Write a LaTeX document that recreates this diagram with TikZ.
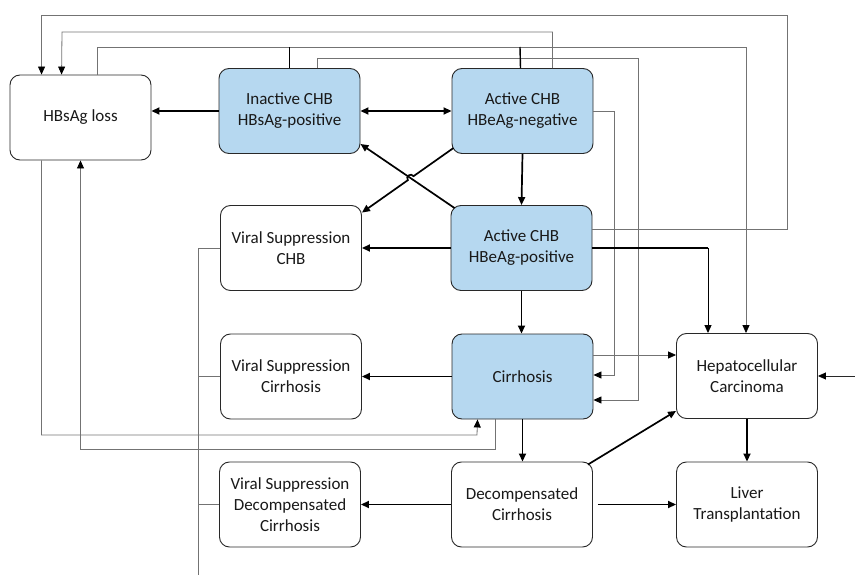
\documentclass[tikz,border=0pt]{standalone}
\usepackage{fontspec}
\setmainfont{Carlito}
\usetikzlibrary{arrows.meta,calc,intersections}
\definecolor{boxblue}{RGB}{182,216,240}
\definecolor{thingray}{RGB}{115,115,115}
\definecolor{boxline}{RGB}{40,40,40}
\definecolor{textcol}{RGB}{25,25,25}
\begin{document}
\begin{tikzpicture}[x=1pt,y=-1pt,
  box/.style={draw=boxline, line width=0.9pt, rounded corners=10pt, minimum width=141pt,
    minimum height=85pt, align=center, inner sep=0pt, fill=white, text=textcol,
    font=\fontsize{17}{21}\selectfont},
  bluebox/.style={box, fill=boxblue},
  tip/.style={-{Triangle[length=8pt,width=7pt,color=black]}},
  main/.style={line width=1.7pt, black},
  mainarrow/.style={main, tip},
  link/.style={draw=thingray, line width=0.8pt},
  linkarrow/.style={link, tip},
  stub/.style={line width=1.4pt, black}]
\useasboundingbox (0,0) rectangle (855,575);

% nodes
\node[box]     (loss)   at (80.5,117.5)  {HBsAg loss};
\node[bluebox] (inact)  at (289.5,111)   {Inactive CHB\\HBsAg-positive};
\node[bluebox] (aneg)   at (522.5,111)   {Active CHB\\HBeAg-negative};
\node[box]     (vschb)  at (291,248)     {Viral Suppression\\CHB};
\node[bluebox] (apos)   at (521.5,248)   {Active CHB\\HBeAg-positive};
\node[box]     (vscir)  at (291,376.5)   {Viral Suppression\\Cirrhosis};
\node[bluebox] (cirr)   at (522.5,376.5) {Cirrhosis};
\node[box]     (hcc)    at (747,376)     {Hepatocellular\\Carcinoma};
\node[box]     (vsdec)  at (290,504.5)   {Viral Suppression\\Decompensated\\Cirrhosis};
\node[box]     (decomp) at (522,504.5)   {Decompensated\\Cirrhosis};
\node[box]     (liver)  at (747,504.5)   {Liver\\Transplantation};

% thin gray long connectors
\draw[linkarrow] ($(apos.east)+(0,-19)$) -| (787,15) -| ($(loss.north west)+(32,0)$);
\draw[linkarrow] ($(aneg.north west)+(101,0)$) |- (62,32) -- ($(loss.north west)+(52,0)$);
\draw[linkarrow] ($(loss.north west)+(88,0)$) |- (746,47) -- (hcc.north -| 746,0);
\draw[linkarrow] ($(inact.north west)+(99,0)$) |- (638,58) |- ($(cirr.east)+(0,23.5)$);
\draw[linkarrow] (aneg.east) -| (614,375) -- ($(cirr.east)+(0,-1.5)$);
\draw[linkarrow] ($(cirr.east)+(0,-21.5)$) -- (hcc.west |- 0,355);
\draw[linkarrow] ($(loss.south west)+(32,0)$) |- (477,435) -- ($(cirr.south)+(-45,0)$);
\draw[linkarrow] ($(cirr.south)+(-27.5,0)$) |- (80.5,449) -- (loss.south);
\coordinate (vbot) at (198,575);
\draw[link] (vschb.west) -| (vbot);
\draw[link] (vscir.west) -- (vscir.west -| vbot);
\draw[link] (vsdec.west) -- (vsdec.west -| vbot);
\coordinate (ext) at (855,376);
\draw[linkarrow, draw=boxline] (ext) -- (hcc.east);

% stubs to the top line
\draw[stub] (inact.north) -- (inact.north |- 0,47);
\draw[stub] ($(aneg.north)+(-2,0)$) -- (520,47);

% main black connectors
\draw[mainarrow] (inact.west) -- (inact.west -| loss.east);
\draw[main, {Triangle[length=8pt,width=7pt]}-{Triangle[length=8pt,width=7pt]}] (inact.east) -- (aneg.west);
\draw[mainarrow] (aneg.south) -- (apos.north);
\draw[mainarrow] (apos.west) -- (vschb.east);
\draw[mainarrow] (apos.south) -- ($(cirr.north)+(-1,0)$);
\draw[mainarrow] (cirr.west) -- (vscir.east);
\draw[mainarrow] (cirr.south) -- (decomp.north -| cirr.south);
\draw[mainarrow] (decomp.west) -- (vsdec.east);
\draw[mainarrow] ($(decomp.east)+(5,0)$) -- (liver.west);
\draw[mainarrow] (hcc.south) -- (liver.north);
\draw[mainarrow] ($(decomp.north east)+(-5,3)$) -- ($(hcc.south west)+(0,-8)$);
\draw[main] (apos.east) -- (708,248);
\draw[linkarrow, draw=black, line width=1pt] (708,248) -- (hcc.north -| 708,0);

% crossing diagonals with hop
\coordinate (s1) at ($(aneg.south west)+(2,-6)$);
\coordinate (e1) at ($(vschb.north east)+(0,7.5)$);
\coordinate (s2) at ($(apos.north west)+(4,3)$);
\coordinate (e2) at ($(inact.south east)+(0,-10)$);
\path[name path=l1] (s1) -- (e1);
\path[name path=l2] (s2) -- (e2);
\path[name intersections={of=l1 and l2, by=X}];
\coordinate (pre) at ($(X)!3.5pt!(s1)$);
\coordinate (post) at ($(X)!3.5pt!(e1)$);
\draw[mainarrow] (s2) -- (e2);
\draw[mainarrow] (s1) -- (pre) .. controls ($(pre)!4.5pt!-90:(X)$) and ($(post)!4.5pt!90:(X)$) .. (post) -- (e1);
\end{tikzpicture}
\end{document}
